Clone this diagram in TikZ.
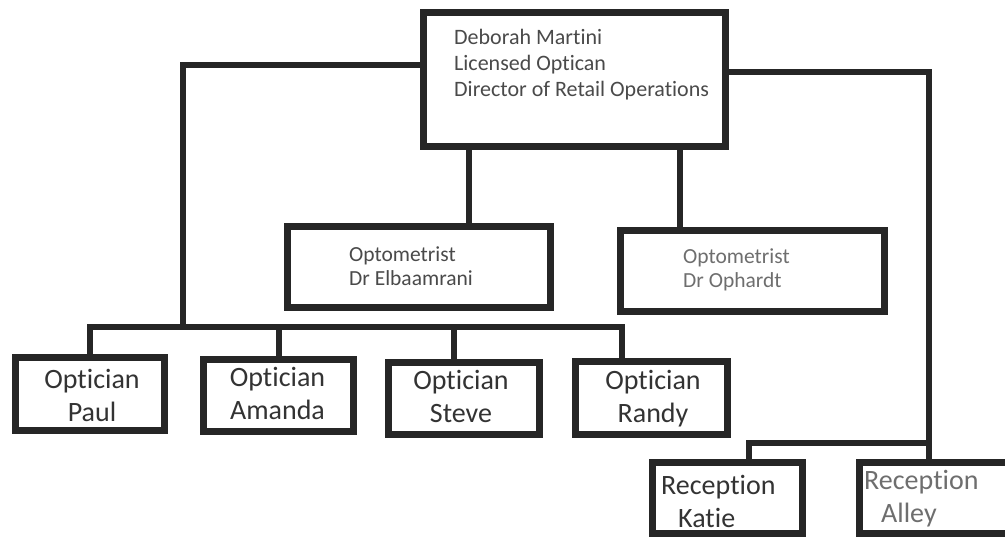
\documentclass[tikz,border=0pt]{standalone}
\usepackage{fontspec}
\setmainfont[Ligatures=NoCommon]{Carlito}
\definecolor{ink}{HTML}{262626}
\definecolor{txtdark}{HTML}{333333}
\definecolor{txtmid}{HTML}{4A4A4A}
\definecolor{txtlight}{HTML}{6E6E6E}
\begin{document}
\begin{tikzpicture}[x=1pt,y=-1pt,
  orgbox/.style={draw=ink, line width=7pt, rectangle, inner sep=0pt, fill=white},
  conn/.style={draw=ink, line width=6pt, line join=miter, line cap=butt},
  toptext/.style={font=\fontsize{22}{26}\selectfont, text=txtmid, align=left, anchor=west, inner sep=0pt},
  opttext/.style={font=\fontsize{21.5}{24}\selectfont, text=txtmid, align=left, anchor=west, inner sep=0pt},
  staff/.style={font=\fontsize{28}{33}\selectfont, text=txtdark, align=center, inner sep=0pt},
  recep/.style={font=\fontsize{28}{33}\selectfont, text=txtdark, align=left, anchor=west, inner sep=0pt}]
\useasboundingbox (0,0) rectangle (1005,539);
\clip (0,0) rectangle (1005,539);

% boxes
\node[orgbox, minimum width=302pt, minimum height=134pt] (top) at (574.5,79.5) {};
\node[orgbox, minimum width=263pt, minimum height=81pt] (optL) at (419,267) {};
\node[orgbox, minimum width=264pt, minimum height=81pt] (optR) at (752.5,271) {};
\node[orgbox, minimum width=149.5pt, minimum height=73pt] (paul) at (89.75,394) {};
\node[orgbox, minimum width=150pt, minimum height=72pt] (amanda) at (278.5,395.5) {};
\node[orgbox, minimum width=151pt, minimum height=72pt] (steve) at (464,398.5) {};
\node[orgbox, minimum width=152pt, minimum height=73pt] (randy) at (651.5,398) {};
\node[orgbox, minimum width=150pt, minimum height=71pt] (katie) at (727.5,498) {};
\node[orgbox, minimum width=185pt, minimum height=71pt] (alley) at (952,498) {};

% connector points
\coordinate (lcorner) at (183,65);
\coordinate (lbus) at (183,327);
\coordinate (busL) at (90,327);
\coordinate (busA) at (279,327);
\coordinate (busS) at (454,327);
\coordinate (busR) at (622,327);
\coordinate (rcorner) at (929,72);
\coordinate (rbus) at (929,443);
\coordinate (kbus) at (749,443);
\coordinate (dropL) at (469,150);
\coordinate (dropR) at (680,150);

% connectors
\draw[conn] (top.west |- lcorner) -- (lcorner) -- (lbus);
\draw[conn] (busL |- paul.north) -- (busL) -- (busR) -- (busR |- randy.north);
\draw[conn] (busA) -- (busA |- amanda.north);
\draw[conn] (busS) -- (busS |- steve.north);
\draw[conn] (top.east |- rcorner) -- (rcorner) -- (rcorner |- alley.north);
\draw[conn] (kbus |- katie.north) -- (kbus) -- (rbus);
\draw[conn] (dropL |- top.south) -- (dropL |- optL.north);
\draw[conn] (dropR |- top.south) -- (dropR |- optR.north);

% texts
\node[toptext] (toplabel) at (454,65) {Deborah Martini\\Licensed Optican\\Director of Retail Operations};
\node[opttext] (optLlabel) at (349,266) {Optometrist\\Dr Elbaamrani};
\node[opttext, text=txtlight] (optRlabel) at (683,270) {Optometrist\\Dr Ophardt};
\node[staff] (paullabel) at (92,395) {Optician\\Paul};
\node[staff] (amandalabel) at (277.5,393) {Optician\\Amanda};
\node[staff] (stevelabel) at (461,396) {Optician\\Steve};
\node[staff] (randylabel) at (653,398.5) {Optician\\Randy};
\node[recep] (katielabel) at (661,501) {Reception\\\hspace*{17pt}Katie};
\node[recep, text=txtlight] (alleylabel) at (864,498.5) {Reception\\\hspace*{17pt}Alley};
\end{tikzpicture}
\end{document}
